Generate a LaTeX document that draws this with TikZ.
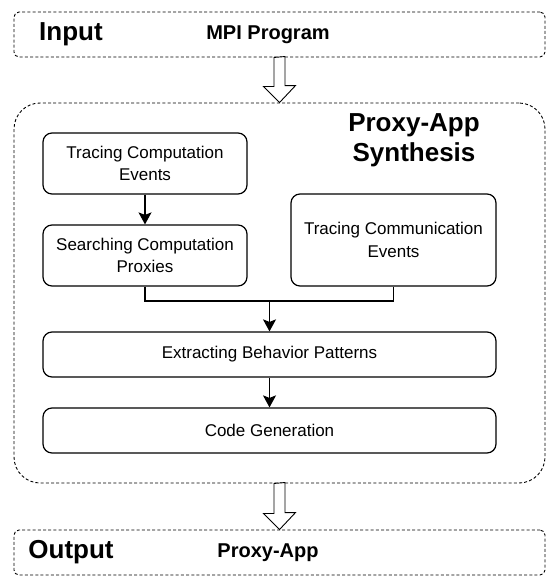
\documentclass[tikz,border=0pt]{standalone}
\usepackage{fontspec}
\setmainfont{Liberation Sans}
\usetikzlibrary{arrows.meta}
\tikzset{
  dashbox/.style={draw, line width=0.9pt, dash pattern=on 3pt off 2.2pt, rounded corners=5pt, inner sep=0pt},
  procbox/.style={draw, line width=1.2pt, rounded corners=9pt, inner sep=0pt, align=center, font=\fontsize{17}{22.7}\selectfont},
  bigtitle/.style={font=\fontsize{26}{30}\selectfont\bfseries, align=center, inner sep=0pt},
  subtitle/.style={font=\fontsize{20}{24}\selectfont\bfseries, inner sep=0pt},
  conn/.style={line width=1.3pt, -{Stealth[length=12pt,width=13pt,inset=2.5pt]}},
  hollow/.style={draw, line width=0.9pt, fill=white, line join=miter}
}
\begin{document}
\begin{tikzpicture}[x=1pt,y=-1pt]
\useasboundingbox (0,0) rectangle (546,576);
% frames
\node[dashbox, minimum width=531pt, minimum height=45pt] (inbox) at (279.5,34.5) {};
\node[dashbox, rounded corners=26pt, minimum width=531pt, minimum height=380pt] (synbox) at (279.5,293) {};
\node[dashbox, minimum width=531pt, minimum height=45pt] (outbox) at (279.5,552.5) {};
% labels
\node[bigtitle] (inlbl) at (71,34.5) {Input};
\node[subtitle] (mpi) at (268,34.5) {MPI Program};
\node[bigtitle] (synlbl) at (414,140) {Proxy-App\\Synthesis};
\node[bigtitle] (outlbl) at (71,552.5) {Output};
\node[subtitle] (pa) at (268,552.5) {Proxy-App};
% process boxes
\node[procbox, minimum width=204pt, minimum height=61pt] (tce) at (145,163.5) {Tracing Computation\\Events};
\node[procbox, minimum width=204pt, minimum height=61pt] (scp) at (145,255.5) {Searching Computation\\Proxies};
\node[procbox, minimum width=205pt, minimum height=92pt] (tcomm) at (393.5,240) {Tracing Communication\\Events};
\node[procbox, minimum width=453pt, minimum height=45pt] (ebp) at (269.5,354.5) {Extracting Behavior Patterns};
\node[procbox, minimum width=453pt, minimum height=45pt] (cg) at (269.5,430.5) {Code Generation};
% connectors
\draw[conn] (tce.south) -- (scp.north);
\coordinate (m) at (269.5,301);
\draw[line width=1.3pt] (scp.south) |- (m) -| (tcomm.south);
\draw[conn] (m) -- (ebp.north);
\draw[conn] (ebp.south) -- (cg.north);
% hollow arrows
\draw[hollow] (inbox.south) ++(-5.5,0) -- ++(0,29) -- ++(-10.5,0) -- (synbox.north) -- ++(16,-17) -- ++(-10.5,0) -- ++(0,-29) -- cycle;
\draw[hollow] (synbox.south) ++(-5.5,0) -- ++(0,30) -- ++(-10.5,0) -- (outbox.north) -- ++(16,-17) -- ++(-10.5,0) -- ++(0,-30) -- cycle;
\end{tikzpicture}
\end{document}
